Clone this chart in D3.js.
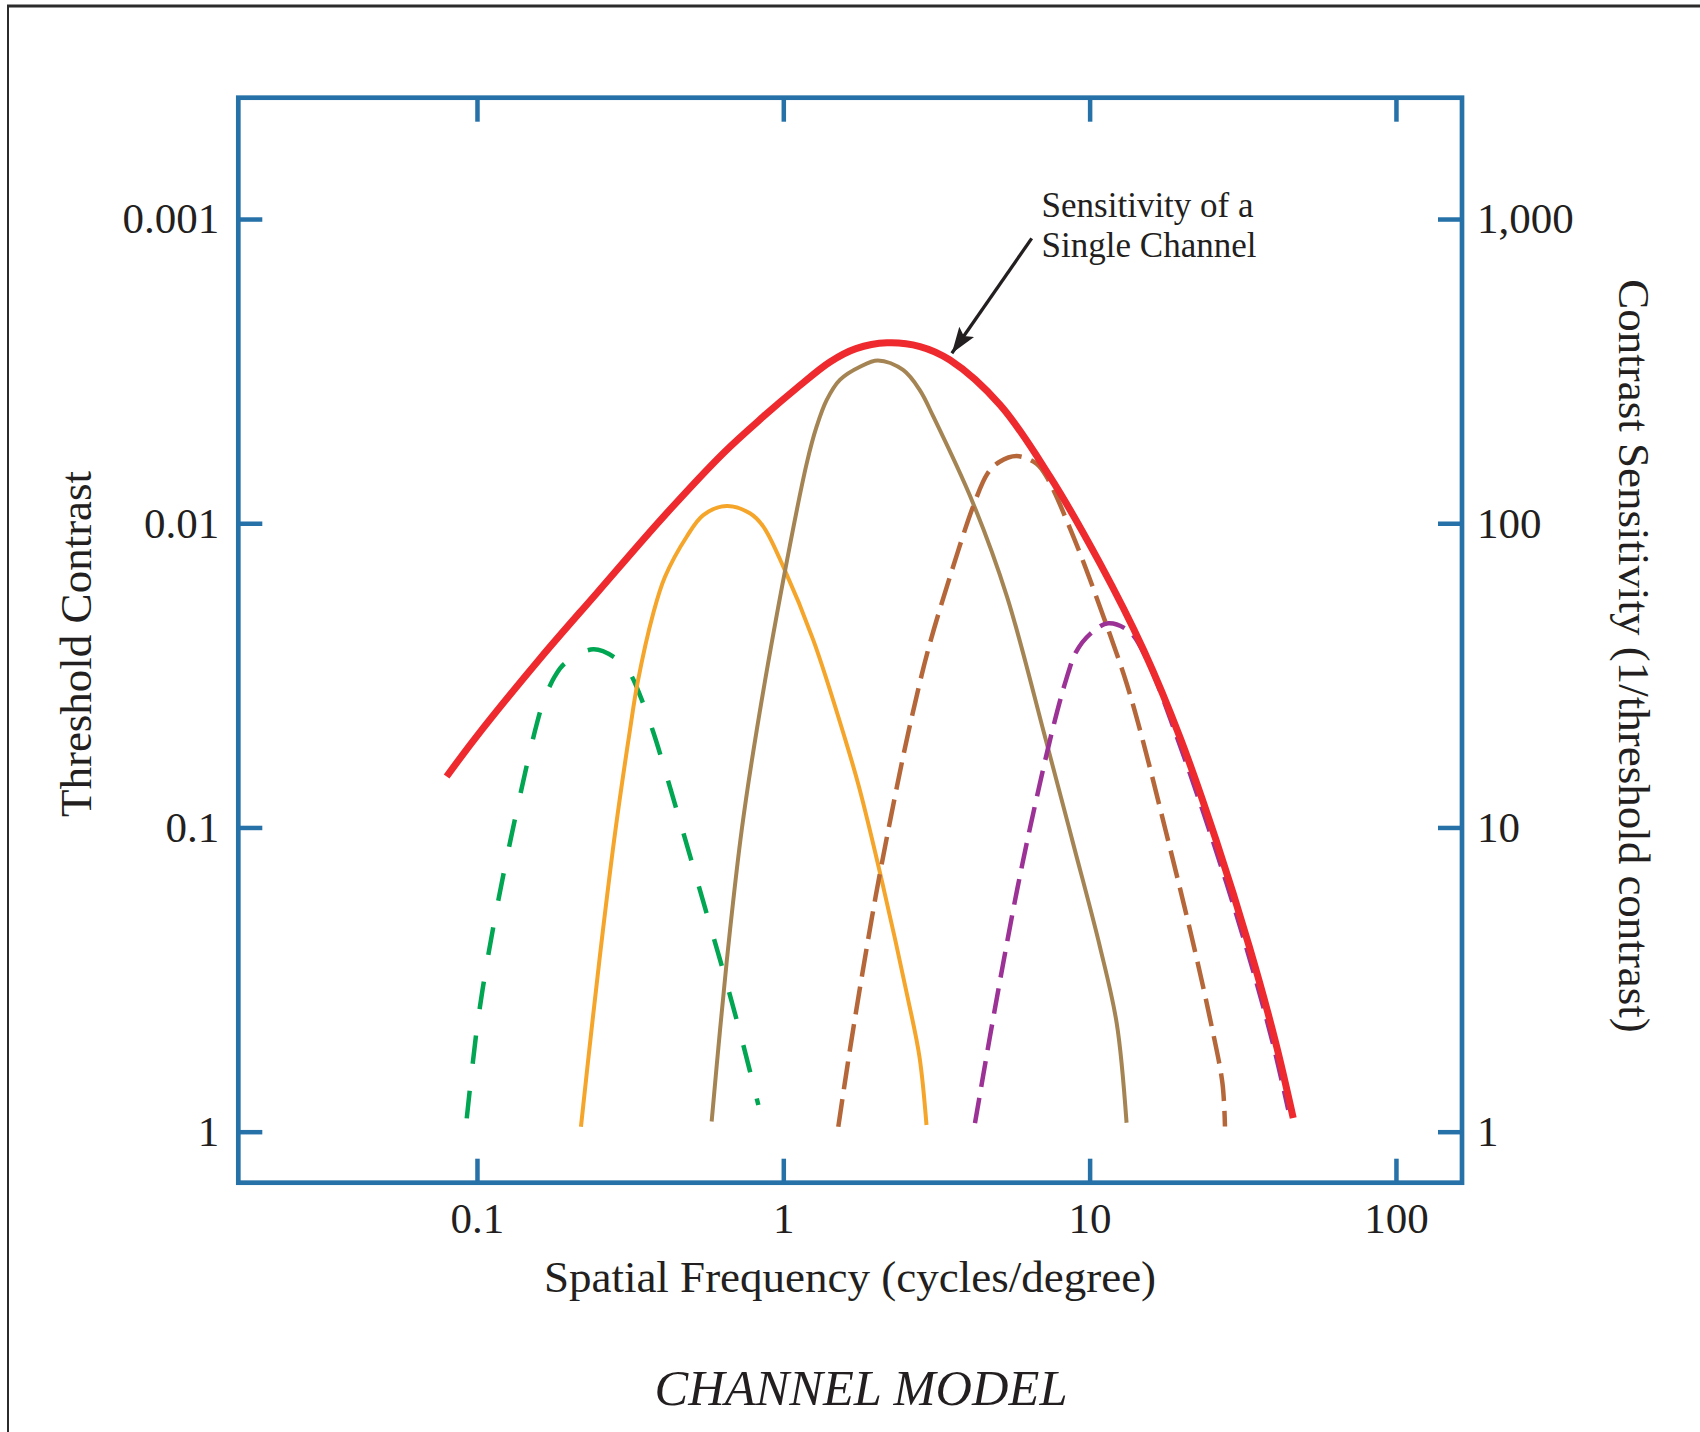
<!DOCTYPE html>
<html>
<head>
<meta charset="utf-8">
<script src="https://cdn.jsdelivr.net/npm/d3@7"></script>
<style>
    body { margin: 0; background: #fff; }
    svg { display: block; }
    text { font-family: "Liberation Serif", "Times New Roman", serif; fill: #231f20; }
</style>
</head>
<body>
<svg width="1700" height="1432"></svg>
<script>
// tick values and labels
const xTicks = [0.1, 1, 10, 100];
const xTickLabels = ["0.1", "1", "10", "100"];
const sensTicks = [1000, 100, 10, 1];
const thresholdLabels = ["0.001", "0.01", "0.1", "1"];
const sensitivityLabels = ["1,000", "100", "10", "1"];

// [spatial frequency, contrast sensitivity]
const envelope = [[0.0796, 14.7], [0.0985, 19.6], [0.161, 36.0], [0.246, 58.9], [0.406, 105], [0.637, 170], [0.86, 224], [1.106, 278], [1.42, 339], [1.727, 375], [2.18, 392], [2.795, 381], [3.5, 344], [5.1, 245], [7.43, 142], [10.8, 73.9], [15.0, 38.3], [19.79, 19.6], [25.85, 9.1], [33.2, 4.06], [40.3, 2.0], [46.2, 1.11]];
const channelGreen = [[0.0926, 1.106], [0.0998, 2.16], [0.1068, 3.4], [0.1158, 5.36], [0.1267, 8.44], [0.1396, 13.3], [0.1549, 20.9], [0.1647, 25.9], [0.1793, 31.3], [0.1933, 34.6], [0.2398, 38.5], [0.2892, 35.5], [0.3159, 32.1], [0.345, 26.3], [0.3774, 20.4], [0.4553, 10.85], [0.55, 5.63], [0.6578, 3.0], [0.743, 1.9], [0.829, 1.224]];
const channelOrange = [[0.2185, 1.038], [0.2365, 2.16], [0.2578, 4.6], [0.2832, 9.81], [0.3158, 20.9], [0.3342, 29.8], [0.3763, 50.6], [0.411, 66.7], [0.4837, 90.3], [0.548, 106.4], [0.6533, 114], [0.778, 107.8], [0.8606, 97.5], [1.0, 72.0], [1.253, 41.3], [1.59, 19.6], [1.766, 13.6], [2.107, 6.55], [2.543, 2.78], [2.783, 1.764], [2.934, 1.052]];
const channelTan = [[0.5836, 1.08], [0.6215, 2.16], [0.67, 4.6], [0.7315, 9.81], [0.819, 20.9], [1.0, 65.1], [1.192, 157], [1.285, 208], [1.385, 254], [1.53, 296], [1.78, 327], [2.037, 342.7], [2.46, 319], [2.79, 274], [3.09, 224], [4.17, 116], [5.373, 57.4], [7.175, 19.6], [8.889, 8.65], [10.8, 4.06], [12.26, 2.27], [13.2, 1.07]];
const channelBrown = [[1.512, 1.038], [1.624, 1.678], [1.76, 2.78], [1.949, 5.09], [2.058, 6.89], [2.313, 12.6], [2.57, 20.9], [2.969, 38.3], [3.529, 68.5], [4.199, 116], [4.648, 146], [5.07, 159], [5.778, 166.3], [6.71, 157], [7.24, 142], [8.85, 90.4], [11.1, 49.3], [13.2, 29.8], [14.8, 19.9], [17.69, 9.81], [21.52, 4.38], [24.91, 2.27], [27.14, 1.442], [27.66, 1.04]];
const channelPurple = [[4.224, 1.066], [4.727, 2.052], [5.222, 3.577], [5.797, 6.23], [6.473, 10.58], [7.561, 20.9], [8.372, 30.5], [9.026, 37.7], [10.03, 43.2], [11.5, 46.9], [13.5, 44.0], [15.4, 35.5], [19.35, 19.6], [25.18, 9.1], [32.4, 4.06], [39.4, 2.0], [44.5, 1.18]];

// annotation: label anchor, arrow tail, arrow tip (data coords)
const noteLines = ["Sensitivity of a", "Single Channel"];
const noteAt = [6.97, 1018];
const arrowFrom = [6.47, 864];
const arrowTo = [3.55, 362];

const blue = "#2571a8";
const series = [
    { data: channelGreen, color: "#00a651", width: 4.5, dash: "28,27" },
    { data: channelOrange, color: "#f5a52a", width: 4 },
    { data: channelTan, color: "#a58454", width: 4 },
    { data: channelBrown, color: "#b5673a", width: 4.5, dash: "28,10" },
    { data: channelPurple, color: "#9c3296", width: 4.5, dash: "26,11" },
    { data: envelope, color: "#ee2a2e", width: 7 },
];

const svg = d3.select("svg");

// page frame (top and left edge only)
svg.append("line").attr("x1", 7).attr("x2", 1700).attr("y1", 6).attr("y2", 6).attr("stroke", "#2b2b2b").attr("stroke-width", 3);
svg.append("line").attr("x1", 8).attr("x2", 8).attr("y1", 5).attr("y2", 1432).attr("stroke", "#2b2b2b").attr("stroke-width", 2);

const plotLeft = 238.3, plotTop = 97.7, plotRight = 1462, plotBottom = 1182.7;

const x = d3.scaleLog().domain([0.016628, 164.3]).range([plotLeft, plotRight]);
const y = d3.scaleLog().domain([0.6797, 2505]).range([plotBottom, plotTop]);

const line = d3
    .line()
    .x((d) => x(d[0]))
    .y((d) => y(d[1]))
    .curve(d3.curveCatmullRom.alpha(0.5));

svg.append("g")
    .selectAll("path")
    .data(series)
    .enter()
    .append("path")
    .attr("d", (d) => line(d.data))
    .attr("fill", "none")
    .attr("stroke", (d) => d.color)
    .attr("stroke-width", (d) => d.width)
    .attr("stroke-dasharray", (d) => d.dash || null)
    .attr("stroke-linejoin", "round");

// axes, ticks pointing inward
const styleAxis = (g) => {
    g.select(".domain").remove();
    g.selectAll(".tick line").attr("stroke", blue).attr("stroke-width", 4.5);
    g.selectAll(".tick text").attr("font-size", 43).attr("font-family", '"Liberation Serif", serif').attr("fill", "#231f20");
};

svg.append("g")
    .attr("transform", `translate(0,${plotBottom})`)
    .call(d3.axisBottom(x).tickValues(xTicks).tickFormat((d, i) => xTickLabels[i]).tickSizeInner(-24).tickSizeOuter(0).tickPadding(20))
    .call(styleAxis);
svg.append("g")
    .attr("transform", `translate(0,${plotTop})`)
    .call(d3.axisTop(x).tickValues(xTicks).tickFormat("").tickSizeInner(-24).tickSizeOuter(0))
    .call(styleAxis);
svg.append("g")
    .attr("transform", `translate(${plotLeft},0)`)
    .call(d3.axisLeft(y).tickValues(sensTicks).tickFormat((d, i) => thresholdLabels[i]).tickSizeInner(-24).tickSizeOuter(0).tickPadding(19))
    .call(styleAxis);
svg.append("g")
    .attr("transform", `translate(${plotRight},0)`)
    .call(d3.axisRight(y).tickValues(sensTicks).tickFormat((d, i) => sensitivityLabels[i]).tickSizeInner(-24).tickSizeOuter(0).tickPadding(15))
    .call(styleAxis);

svg.append("rect")
    .attr("x", plotLeft)
    .attr("y", plotTop)
    .attr("width", plotRight - plotLeft)
    .attr("height", plotBottom - plotTop)
    .attr("fill", "none")
    .attr("stroke", blue)
    .attr("stroke-width", 4.7);

// axis titles
svg.append("text").attr("x", 850).attr("y", 1292).attr("text-anchor", "middle").attr("font-size", 45).text("Spatial Frequency (cycles/degree)");
svg.append("text").attr("transform", "translate(91,644) rotate(-90)").attr("text-anchor", "middle").attr("font-size", 45).text("Threshold Contrast");
svg.append("text").attr("transform", "translate(1619,656) rotate(90)").attr("text-anchor", "middle").attr("font-size", 45).text("Contrast Sensitivity (1/threshold contrast)");
svg.append("text").attr("x", 861).attr("y", 1405).attr("text-anchor", "middle").attr("font-size", 50.5).attr("font-style", "italic").text("CHANNEL MODEL");

// annotation
const defs = svg.append("defs");
defs.append("marker")
    .attr("id", "head")
    .attr("viewBox", "0 -10 26 20")
    .attr("refX", 26)
    .attr("refY", 0)
    .attr("markerWidth", 26)
    .attr("markerHeight", 20)
    .attr("markerUnits", "userSpaceOnUse")
    .attr("orient", "auto")
    .append("path")
    .attr("d", "M0,-9L26,0L0,9L5,0Z")
    .attr("fill", "#231f20");

svg.append("line")
    .attr("x1", x(arrowFrom[0]))
    .attr("y1", y(arrowFrom[1]))
    .attr("x2", x(arrowTo[0]))
    .attr("y2", y(arrowTo[1]))
    .attr("stroke", "#231f20")
    .attr("stroke-width", 3.3)
    .attr("marker-end", "url(#head)");

svg.append("text")
    .attr("x", x(noteAt[0]))
    .attr("y", y(noteAt[1]))
    .attr("font-size", 35)
    .selectAll("tspan")
    .data(noteLines)
    .enter()
    .append("tspan")
    .attr("x", x(noteAt[0]))
    .attr("dy", (d, i) => (i ? 40.6 : 0))
    .text((d) => d);
</script>
</body>
</html>
